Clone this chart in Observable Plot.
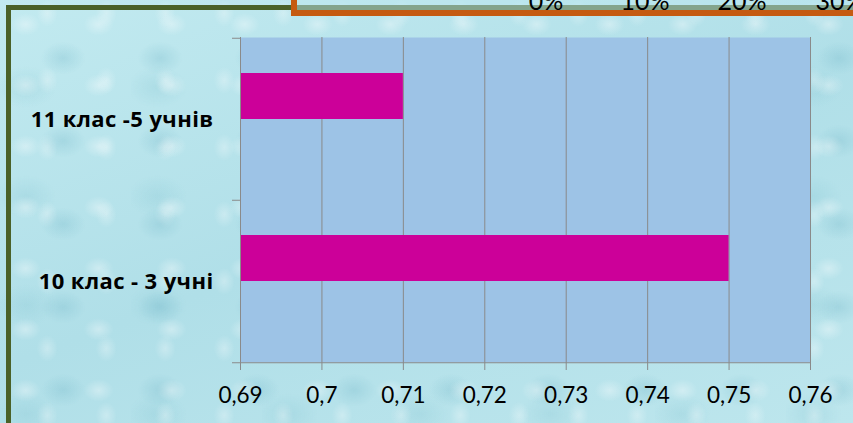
<!DOCTYPE html>
<html>
<head>
<meta charset="utf-8">
<script src="https://cdn.jsdelivr.net/npm/d3@7"></script>
<script src="https://cdn.jsdelivr.net/npm/@observablehq/plot@0.6"></script>
<style>
  html, body { margin: 0; padding: 0; }
  #stage {
    position: relative; width: 853px; height: 423px; overflow: hidden;
    background-color: #b6e2ea;
    background-image:
      radial-gradient(ellipse 20px 15px at 35% 40%, rgba(255,255,255,0.35), rgba(255,255,255,0) 75%),
      radial-gradient(ellipse 30px 22px at 65% 70%, rgba(110,180,198,0.28), rgba(110,180,198,0) 75%),
      radial-gradient(ellipse 14px 18px at 80% 20%, rgba(255,255,255,0.3), rgba(255,255,255,0) 75%),
      radial-gradient(ellipse 40px 28px at 20% 80%, rgba(130,195,208,0.25), rgba(130,195,208,0) 75%),
      linear-gradient(160deg, #c2eaf0 0%, #b0dfe8 50%, #bde6ed 100%);
    background-size: 73px 61px, 97px 83px, 59px 67px, 131px 109px, 100% 100%;
    font-family: Lato, "Open Sans", sans-serif;
  }
  #green {
    position: absolute; left: 6px; top: 5px; width: 900px; height: 500px;
    border-left: 5px solid #4a6128; border-top: 5px solid #4a6128;
    box-sizing: border-box;
  }
  #orange {
    position: absolute; left: 291px; top: -40px; width: 620px; height: 56px;
    border: 6px solid #c55a11; box-sizing: border-box;
    background: rgba(190,232,239,0.5);
  }
  .pct {
    position: absolute; top: -12px; font-size: 25px; line-height: 24px;
    transform: translateX(-50%); color: #000; white-space: nowrap;
  }
  #chart { position: absolute; left: 0; top: 0; }
  #chart svg g[aria-label="y-axis tick label"] text { font-weight: bold; font-family: "Open Sans", sans-serif; font-size: 22px; letter-spacing: 0.4px; }
  #chart svg g[aria-label="x-axis tick label"] text { font-size: 22.5px; }
</style>
</head>
<body>
<div id="stage">
  <div id="green"></div>
  <div id="orange"></div>
  <div id="pcts"></div>
  <div id="chart"></div>
</div>
<script>
const categories = ["11 клас -5 учнів", "10 клас - 3 учні"];
const values = [0.71, 0.75];
const xMin = 0.69;
const xMax = 0.76;
const xTicks = [0.69, 0.70, 0.71, 0.72, 0.73, 0.74, 0.75, 0.76];
const topLabels = ["0%", "10%", "20%", "30%"];
const topLabelPos = [546, 645, 742, 840];

const data = categories.map((c, i) => ({category: c, value: values[i]}));
const comma = d => String(+d.toFixed(2)).replace(".", ",");

const pcts = document.getElementById("pcts");
topLabels.forEach((t, i) => {
  const s = document.createElement("span");
  s.className = "pct";
  s.textContent = t;
  s.style.left = topLabelPos[i] + "px";
  pcts.appendChild(s);
});

const gray = "#8a8a8a";
const chart = Plot.plot({
  width: 853,
  height: 423,
  marginLeft: 240,
  marginRight: 43,
  marginTop: 37,
  marginBottom: 61,
  style: {background: "transparent", fontFamily: "Lato, 'Open Sans', sans-serif", color: "#000"},
  x: {domain: [xMin, xMax], ticks: xTicks},
  y: {domain: categories, padding: 0},
  marks: [
    Plot.frame({fill: "#9dc3e6", stroke: null}),
    Plot.gridX(xTicks.slice(1), {stroke: gray, strokeOpacity: 1}),
    Plot.barX(data, {x1: () => xMin, x2: "value", y: "category", fill: "#cc0099", insetTop: 35, insetBottom: 81}),
    Plot.ruleX([xMin], {stroke: gray}),
    Plot.ruleY([0], {y: () => categories[1], dy: 81.25, x1: xMin, x2: xMax, stroke: gray}),
    Plot.axisY({tickSize: 8, dy: -81.25, tickFormat: () => "", stroke: gray, label: null}),
    Plot.axisY([categories[1]], {tickSize: 8, dy: 81.25, tickFormat: () => "", stroke: gray, label: null}),
    Plot.axisY({tickSize: 0, tickPadding: 27, fontSize: 22, fontWeight: "bold", label: null}),
    Plot.axisX({ticks: xTicks, tickSize: 8, tickPadding: 17, tickFormat: comma, fontSize: 22.5, stroke: gray, label: null})
  ]
});
document.getElementById("chart").appendChild(chart);
</script>
</body>
</html>
